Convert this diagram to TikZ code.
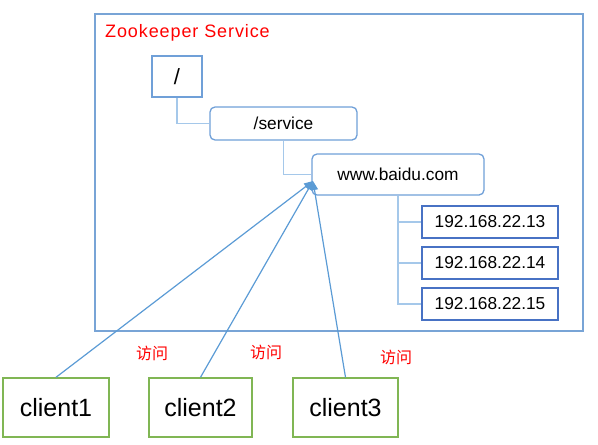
\documentclass[tikz,border=0pt]{standalone}
\usepackage{fontspec}
\setmainfont{Liberation Sans}
\newfontfamily\cjk{Noto Sans CJK SC}
\newfontfamily\spaced[LetterSpace=5]{Liberation Sans}
\usetikzlibrary{arrows.meta, calc}

\definecolor{frameblue}{RGB}{120,164,214}
\definecolor{nodeblue}{RGB}{112,160,216}
\definecolor{treeblue}{RGB}{165,200,234}
\definecolor{ipblue}{RGB}{72,114,196}
\definecolor{linkblue}{RGB}{91,155,213}
\definecolor{clientgreen}{RGB}{128,182,84}

\begin{document}
\begin{tikzpicture}[
        x=1pt, y=-1pt,
        every node/.style={font=\fontsize{17.3}{20}\selectfont, inner sep=0pt},
        >={Triangle[length=9pt, width=7pt]}
    ]
    \tikzset{
        znode/.style={draw=nodeblue, line width=1.3pt, fill=white},
        ipnode/.style={draw=ipblue, line width=1.3pt, minimum width=136pt, minimum height=32pt},
        clientnode/.style={draw=clientgreen, line width=1.4pt, minimum height=59pt, font=\fontsize{25}{28}\selectfont},
        tree/.style={draw=treeblue, line width=1.3pt},
        visit/.style={red, font=\cjk\fontsize{16}{18}\selectfont}
    }
    \useasboundingbox (0,0) rectangle (598,445);

% ---------- Zookeeper Service frame ----------
    \draw[frameblue, line width=1.6pt] (95,14) rectangle (583,331);
    \node[red, anchor=west, font=\spaced\fontsize{18}{20}\selectfont] (title) at (105,33) {Zookeeper Service};

% ---------- znode tree ----------
    \node[znode, minimum width=50pt, minimum height=41pt, font=\fontsize{22}{24}\selectfont] (root) at (177,76.5) {/};
    \node[znode, rounded corners=5pt, minimum width=147pt, minimum height=33pt] (svc) at (283.5,123.5) {/service};
    \node[znode, rounded corners=5pt, minimum width=172pt, minimum height=41pt] (www) at (398,174.5) {www.baidu.com};

    \draw[tree] (root.south) |- (svc.west);
    \draw[tree] (svc.south) |- (www.west);

    % ip children of www.baidu.com
    \foreach \k/\y in {13/222, 14/263, 15/304}{
        \node[ipnode] (ip\k) at (490,\y) {192.168.22.\k};
        \draw[tree] (www.south) |- (ip\k.west);
    }

% ---------- clients ----------
    \node[clientnode, minimum width=106pt] (c1) at (56,407.5) {client1};
    \node[clientnode, minimum width=103pt] (c2) at (200.5,407.5) {client2};
    \node[clientnode, minimum width=105pt] (c3) at (345.5,407.5) {client3};

    % all three requests meet at the left edge of www.baidu.com
    \coordinate (hit) at (313,181);
    \foreach \c in {c1,c2,c3}
        \draw[->, linkblue, line width=1.2pt] (\c.north) -- (hit);

    \node[visit] (v1) at (152,353) {访问};
    \node[visit] (v2) at (266,352) {访问};
    \node[visit] (v3) at (396,357) {访问};

\end{tikzpicture}
\end{document}
